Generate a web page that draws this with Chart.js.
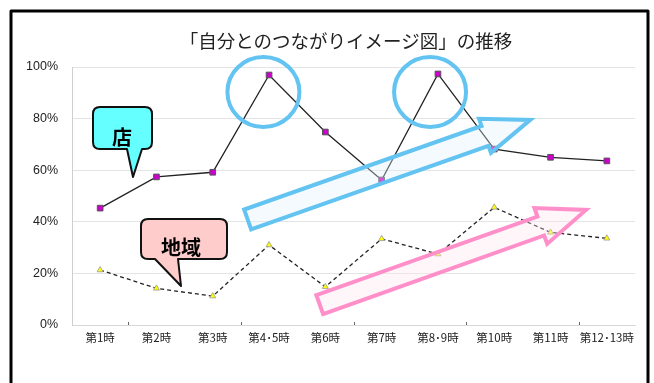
<!DOCTYPE html>
<html><head><meta charset="utf-8">
<script src="https://cdn.jsdelivr.net/npm/chart.js@4"></script>
<style>
html,body{margin:0;padding:0;background:#fff;overflow:hidden}
#wrap{position:relative;width:654px;height:383px}
canvas{display:block}
#title{position:absolute;left:0;width:692px;top:28px;text-align:center;font:18.5px "Noto Sans CJK JP","Noto Sans",sans-serif;color:#222;line-height:24px;white-space:nowrap}
</style></head>
<body><div id="wrap"><canvas id="c" width="654" height="383"></canvas><div id="title"></div></div>
<script>
const categories = ['第1時','第2時','第3時','第4･5時','第6時','第7時','第8･9時','第10時','第11時','第12･13時'];
const storeValues = [45.3, 57.4, 59.2, 96.9, 74.8, 56.2, 97.3, 68.2, 65.0, 63.6];
const communityValues = [21.3, 14.2, 11.2, 31.0, 14.8, 33.4, 27.5, 45.6, 35.9, 33.6];
const yTicks = [0, 20, 40, 60, 80, 100];
const titleText = '「自分とのつながりイメージ図」の推移';
const storeLabel = '店';
const communityLabel = '地域';

document.getElementById('title').textContent = titleText;
const JP = '"Noto Sans CJK JP", "Noto Sans", sans-serif';

function blockArrow(ctx, T, P, w, h, L, stroke, fill) {
  const dx = P[0]-T[0], dy = P[1]-T[1];
  const len = Math.hypot(dx, dy);
  const ux = dx/len, uy = dy/len;
  const nx = -uy, ny = ux;
  const N = [P[0]-ux*L, P[1]-uy*L];
  const pts = [
    [T[0]+nx*w, T[1]+ny*w], [N[0]+nx*w, N[1]+ny*w], [N[0]+nx*h, N[1]+ny*h],
    P, [N[0]-nx*h, N[1]-ny*h], [N[0]-nx*w, N[1]-ny*w], [T[0]-nx*w, T[1]-ny*w]
  ];
  ctx.beginPath();
  pts.forEach((p,i)=> i ? ctx.lineTo(p[0],p[1]) : ctx.moveTo(p[0],p[1]));
  ctx.closePath();
  ctx.fillStyle = fill; ctx.fill();
  ctx.lineWidth = 4; ctx.lineJoin = 'miter'; ctx.strokeStyle = stroke; ctx.stroke();
}

function callout(ctx, x0, y0, x1, y1, tail, fill, text, tx, ty) {
  const r = 7;
  ctx.beginPath();
  ctx.moveTo(x0+r, y0);
  ctx.lineTo(x1-r, y0); ctx.quadraticCurveTo(x1, y0, x1, y0+r);
  ctx.lineTo(x1, y1-r); ctx.quadraticCurveTo(x1, y1, x1-r, y1);
  ctx.lineTo(tail[2], y1); ctx.lineTo(tail[3], tail[4]); ctx.lineTo(tail[0], y1);
  ctx.lineTo(x0+r, y1); ctx.quadraticCurveTo(x0, y1, x0, y1-r);
  ctx.lineTo(x0, y0+r); ctx.quadraticCurveTo(x0, y0, x0+r, y0);
  ctx.closePath();
  ctx.fillStyle = fill; ctx.fill();
  ctx.lineWidth = 2; ctx.strokeStyle = '#111'; ctx.lineJoin = 'round'; ctx.stroke();
  ctx.fillStyle = '#000';
  ctx.font = 'bold 20px ' + JP;
  ctx.textAlign = 'center'; ctx.textBaseline = 'middle';
  ctx.fillText(text, tx, ty);
}

const decor = {
  id: 'decor',
  afterDatasetsDraw(chart) {
    const ctx = chart.ctx;
    const xs = chart.scales.x, ys = chart.scales.y;
    const px = (i, v) => [xs.getPixelForValue(i), ys.getPixelForValue(v)];
    ctx.save();
    // small tick marks on x axis
    ctx.strokeStyle = '#666'; ctx.lineWidth = 1;
    for (let k = 1; k < categories.length; k += 2) {
      const x = Math.round(xs.getPixelForValue(k - 0.5)) + 0.5;
      ctx.beginPath(); ctx.moveTo(x, ys.bottom - 3); ctx.lineTo(x, ys.bottom); ctx.stroke();
    }
    // circles
    ctx.strokeStyle = '#63c3f1'; ctx.lineWidth = 4;
    [[2.9, 90.3], [5.86, 90.3]].forEach(c => {
      const p = px(c[0], c[1]);
      ctx.beginPath(); ctx.ellipse(p[0], p[1], 36, 35, 0, 0, Math.PI*2); ctx.stroke();
    });
    // arrows
    blockArrow(ctx, px(2.62, 40.9), px(7.64, 79.5), 10.5, 18, 48, '#63c3f1', 'rgba(225,240,255,0.35)');
    blockArrow(ctx, px(3.90, 7.9), px(8.63, 44.6), 10, 19, 48, '#ff8fc9', 'rgba(255,228,240,0.35)');
    // callouts
    callout(ctx, 93, 107, 152, 149, [127, 149, 142, 133, 177], '#66ffff', storeLabel, 122, 137);
    callout(ctx, 141, 219, 227, 259, [155, 259, 178, 181, 286], '#ffcccc', communityLabel, 181, 247);
    // frame
    ctx.strokeStyle = '#000'; ctx.lineWidth = 3;
    ctx.beginPath();
    ctx.moveTo(11, 400); ctx.lineTo(11, 11); ctx.lineTo(648, 11); ctx.lineTo(648, 400);
    ctx.stroke();
    ctx.restore();
  }
};

new Chart(document.getElementById('c'), {
  type: 'line',
  data: {
    labels: categories,
    datasets: [
      {
        label: storeLabel, data: storeValues,
        borderColor: '#222', borderWidth: 1.3,
        pointStyle: 'rect', pointRadius: 4, pointBackgroundColor: '#cc00cc',
        pointBorderColor: '#555', pointBorderWidth: 1, tension: 0
      },
      {
        label: communityLabel, data: communityValues,
        borderColor: '#222', borderWidth: 1.3, borderDash: [4, 3],
        pointStyle: 'triangle', pointRadius: 3.5, pointBackgroundColor: '#ffff00',
        pointBorderColor: '#999', pointBorderWidth: 0.8, tension: 0
      }
    ]
  },
  options: {
    responsive: false, animation: false,
    layout: { padding: { left: 0, right: 19, top: 67, bottom: 0 } },
    plugins: {
      legend: { display: false }, tooltip: { enabled: false },
      title: { display: false }
    },
    scales: {
      x: {
        offset: true,
        grid: { display: false, drawTicks: false },
        border: { display: true, color: '#d8d8d8', width: 1 },
        ticks: { color: '#222', font: { family: JP, size: 11.5 }, padding: 6, maxRotation: 0, autoSkip: false },
        afterFit(s) { s.height = 58; }
      },
      y: {
        min: 0, max: 100,
        afterBuildTicks(s) { s.ticks = yTicks.map(v => ({ value: v })); },
        grid: { color: '#e4e4e4', drawTicks: false },
        border: { display: true, color: '#cfcfcf', width: 1 },
        ticks: { color: '#222', font: { family: 'Liberation Sans, Arial, sans-serif', size: 12.5 }, padding: 14, callback: v => v + '%' },
        afterFit(s) { s.width = 72; }
      }
    }
  },
  plugins: [decor]
});
</script></body></html>
